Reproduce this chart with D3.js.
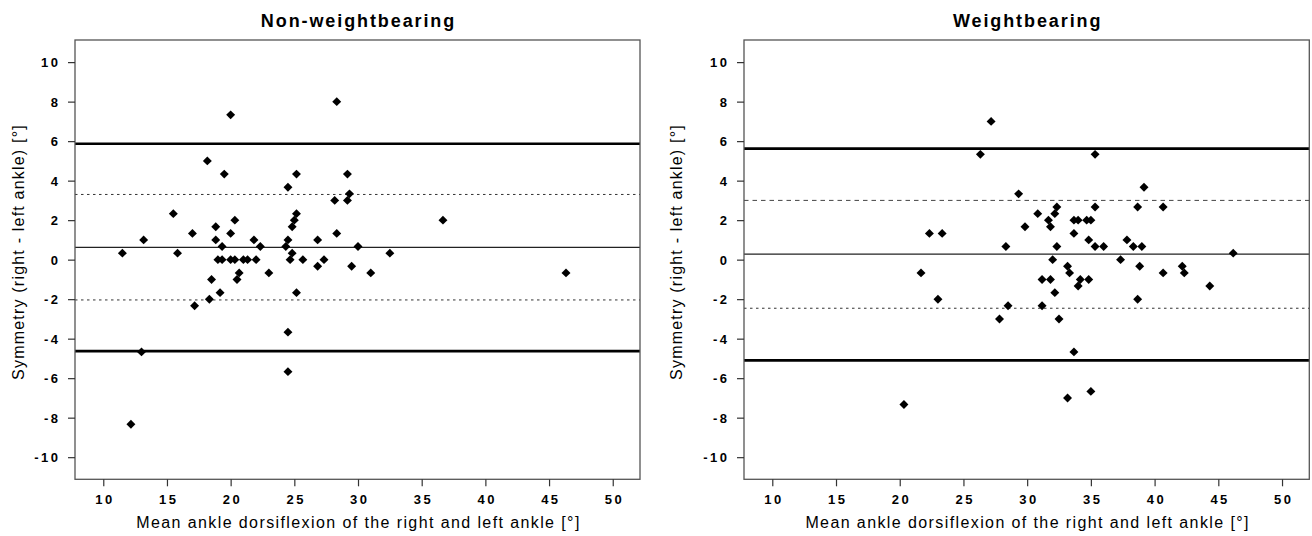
<!DOCTYPE html>
<html><head><meta charset="utf-8">
<script src="https://cdn.jsdelivr.net/npm/d3@7"></script>
<style>
body{margin:0;background:#fff}
svg{display:block}
text{font-family:"Liberation Sans",Arial,Helvetica,sans-serif;fill:#000}
.tk text{font-size:13px !important;font-weight:bold !important;letter-spacing:2.5px !important}
</style>
</head><body>
<svg id="c" width="1312" height="536"></svg>
<script>
// ---- data ----
const xTicks = [10, 15, 20, 25, 30, 35, 40, 45, 50];
const yTicks = [-10, -8, -6, -4, -2, 0, 2, 4, 6, 8, 10];
const panelTitles = ["Non-weightbearing", "Weightbearing"];
const xTitle = "Mean ankle dorsiflexion of the right and left ankle [°]";
const yTitle = "Symmetry (right - left ankle) [°]";

const nwX = [28.33, 20.0, 18.17, 19.5, 25.17, 29.17, 24.5, 28.17, 29.17, 29.33,
  15.5, 25.17, 25.0, 20.33, 36.67, 24.83, 18.83, 17.0, 20.0, 28.33,
  13.17, 18.83, 21.83, 24.5, 26.83, 19.33, 22.33, 24.33, 30.0, 11.5,
  15.83, 24.83, 32.5, 19.0, 19.33, 20.0, 20.33, 21.0, 21.33, 22.0,
  24.67, 25.67, 27.33, 26.83, 29.5, 20.67, 23.0, 31.0, 46.33, 20.5,
  18.5, 19.17, 25.17, 18.33, 17.17, 24.5, 13.0, 24.5, 12.17];
const nwY = [8.0, 7.33, 5.0, 4.33, 4.33, 4.33, 3.67, 3.0, 3.0, 3.33,
  2.33, 2.33, 2.0, 2.0, 2.0, 1.67, 1.67, 1.33, 1.33, 1.33,
  1.0, 1.0, 1.0, 1.0, 1.0, 0.67, 0.67, 0.67, 0.67, 0.33,
  0.33, 0.33, 0.33, 0, 0, 0, 0, 0, 0, 0,
  0, 0, 0, -0.33, -0.33, -0.67, -0.67, -0.67, -0.67, -1.0,
  -1.0, -1.67, -1.67, -2.0, -2.33, -3.67, -4.67, -5.67, -8.33];

const wbX = [27.17, 26.33, 35.33, 39.17, 29.33, 32.33, 35.33, 38.67, 40.67, 30.83,
  32.17, 31.67, 33.67, 34.0, 34.67, 35.0, 29.83, 31.83, 22.33, 23.33,
  33.67, 34.83, 37.83, 28.33, 32.33, 35.33, 36.0, 38.33, 39.0, 46.17,
  32.0, 37.33, 33.17, 33.33, 38.83, 42.17, 42.33, 40.67, 21.67, 31.17,
  31.83, 34.17, 34.83, 34.0, 44.33, 32.17, 38.67, 23.0, 28.5, 31.17,
  32.5, 27.83, 33.67, 35.0, 33.17, 20.33];
const wbY = [7.0, 5.33, 5.33, 3.67, 3.33, 2.67, 2.67, 2.67, 2.67, 2.33,
  2.33, 2.0, 2.0, 2.0, 2.0, 2.0, 1.67, 1.67, 1.33, 1.33,
  1.33, 1.0, 1.0, 0.67, 0.67, 0.67, 0.67, 0.67, 0.67, 0.33,
  0, 0, -0.33, -0.67, -0.33, -0.33, -0.67, -0.67, -0.67, -1.0,
  -1.0, -1.0, -1.0, -1.33, -1.33, -1.67, -2.0, -2.0, -2.33, -2.33,
  -3.0, -3.0, -4.67, -6.67, -7.0, -7.33];

// reference lines: upper limit, upper band, mean, lower band, lower limit
const nwLines = [5.87, 3.30, 0.62, -2.04, -4.63];
const wbLines = [5.62, 3.00, 0.28, -2.46, -5.10];

// ---- drawing ----
const svg = d3.select("#c");
const panels = [
  {left: 75, top: 40, w: 565, h: 439.3, xs: nwX, ys: nwY, lines: nwLines, title: panelTitles[0], ytx: 18.5,
   styles: ["thick", "dot", "thin", "dot", "thick"]},
  {left: 744, top: 40, w: 565.3, h: 439.3, xs: wbX, ys: wbY, lines: wbLines, title: panelTitles[1], ytx: 676,
   styles: ["thick", "dash", "thin", "dot", "thick"]}
];
const fmt = d => d < 0 ? "-" + Math.abs(d) : String(d);

panels.forEach(p => {
  const x = d3.scaleLinear().domain([7.78, 52.14]).range([p.left, p.left + p.w]);
  const y = d3.scaleLinear().domain([-11.12, 11.12]).range([p.top + p.h, p.top]);
  const g = svg.append("g");

  // reference lines
  p.lines.forEach((v, i) => {
    const st = p.styles[i];
    const ln = g.append("line")
      .attr("x1", p.left).attr("x2", p.left + p.w)
      .attr("y1", y(v)).attr("y2", y(v));
    if (st === "thick") ln.attr("stroke", "#000").attr("stroke-width", 2.6);
    else if (st === "thin") ln.attr("stroke", "#222").attr("stroke-width", 1.1);
    else if (st === "dot") ln.attr("stroke", "#333").attr("stroke-width", 1).attr("stroke-dasharray", "2.5,3.5");
    else ln.attr("stroke", "#444").attr("stroke-width", 1).attr("stroke-dasharray", "4.5,4");
  });

  // box
  g.append("rect").attr("x", p.left).attr("y", p.top).attr("width", p.w).attr("height", p.h)
    .attr("fill", "none").attr("stroke", "#555").attr("stroke-width", 1.3);

  // axes
  const xa = g.append("g").attr("class", "tk").attr("transform", `translate(0,${p.top + p.h})`)
    .call(d3.axisBottom(x).tickValues(xTicks).tickSize(7).tickFormat(fmt));
  xa.attr("font-size", 13).attr("font-weight", "bold").attr("letter-spacing", "2.5px").attr("font-family", null);
  xa.select(".domain").remove();
  xa.selectAll("line").attr("stroke", "#333").attr("stroke-width", 1.2);
  xa.selectAll("text").attr("y", 25).attr("dy", null).attr("dx", 1.3).attr("fill", "#000");

  const ya = g.append("g").attr("class", "tk").attr("transform", `translate(${p.left},0)`)
    .call(d3.axisLeft(y).tickValues(yTicks).tickSize(7).tickFormat(fmt));
  ya.attr("font-size", 13).attr("font-weight", "bold").attr("letter-spacing", "2.5px").attr("font-family", null);
  ya.select(".domain").remove();
  ya.selectAll("line").attr("stroke", "#333").attr("stroke-width", 1.2);
  ya.selectAll("text").attr("x", -14.5).attr("dy", "0.36em").attr("fill", "#000");

  // points
  const pts = p.xs.map((v, i) => [v, p.ys[i]]);
  g.selectAll("path.pt").data(pts).enter().append("path")
    .attr("class", "pt")
    .attr("d", d3.symbol(d3.symbolSquare, 40))
    .attr("transform", d => `translate(${x(d[0])},${y(d[1])}) rotate(45)`)
    .attr("fill", "#000");

  // titles
  const cx = p.left + p.w / 2;
  g.append("text").attr("x", cx + 1).attr("y", 27).attr("text-anchor", "middle")
    .style("font-size", "18px").style("font-weight", "bold").style("letter-spacing", "1.9px")
    .text(p.title);
  g.append("text").attr("x", cx + 1).attr("y", 528).attr("text-anchor", "middle")
    .style("font-size", "16px").style("letter-spacing", "1.4px")
    .text(xTitle);
  g.append("text").attr("transform", `translate(${p.ytx + 5.5},${252}) rotate(-90)`)
    .attr("text-anchor", "middle")
    .style("font-size", "16px").style("letter-spacing", "1.2px")
    .text(yTitle);
});
</script>
</body></html>
